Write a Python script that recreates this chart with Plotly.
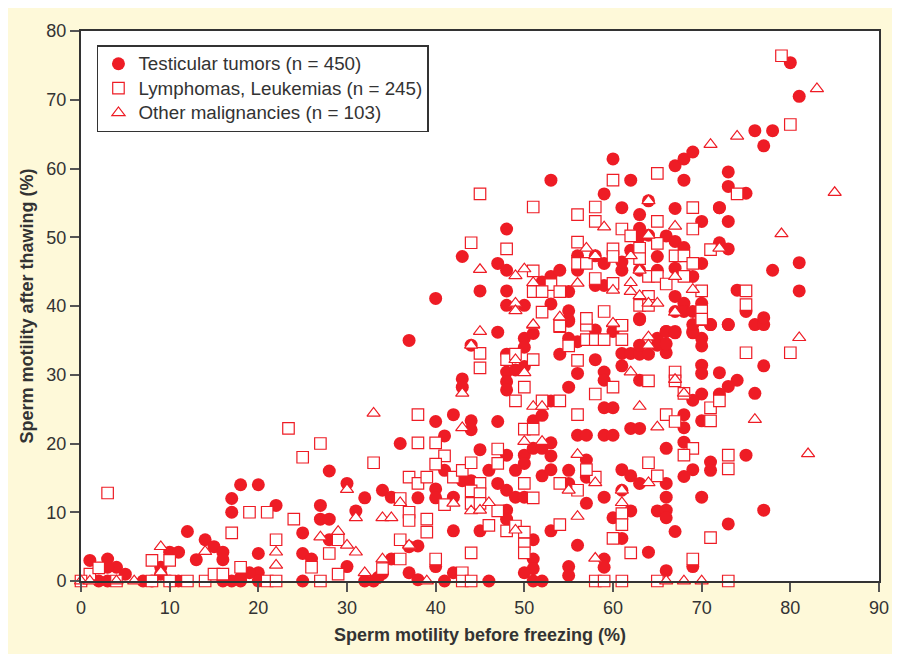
import plotly.graph_objects as go

testicular = [
(1,3),(3,3.2),(4,2),(5,1),(3,2),(2,0),(3,0),(7,0),(8,0),(9,2),(9,1),(10,4.2),(11,4.2),(12,7.2),(13,3.1),
(14,6),(15,5),(16,4.2),(16,3.1),(17,12),(17,10),(18,14),(20,14),(22,11),(20,4),(20,1.2),(19,1.2),(18,.5),
(17,0),(16,0),(18,0),(20,0),(11,0),(10,0),(25,7),(25,4),(26,3.2),(25,0),(27,11),(27,9),(28,9),(28,16),(28,6),
(30,14.2),(30,2.1),(31,10.2),
(37,35),(47,36.2),(44,34.3),(50,35.3),(50,34),(51,36),(55,37.8),(55,35.3),(54,33),(56,34.8),(56,30.2),(58,32.2),
(59,30.4),(59,29.2),(61,33.1),(62,33.1),(63,33),(64,33),(66,33.2),(61,31.3),(48,33),(48,30.4),(48,29),(48,27.8),(49,30.7),(50,31.2),
(43,29.4),(43,28.2),(55,28.2),(53,26.2),(59,25.2),(60,25.2),(42,24.2),(40,23.2),(44,23.3),(44,22),(47,23.2),
(51,23.3),(52,24.1),(41,21.1),(36,20),(56,21.2),(57,21.2),(59,21.2),(60,21.2),(62,22.2),(63,22.2),
(45,19.1),(48,18.3),(50,18.3),(51,19.3),(52,19.3),(53,20.1),(53,18.2),(50,17.1),(49,16.1),(46,16.1),(41,16.1),
(52,15.3),(53,16.2),(55,16.1),(57,17.6),(57,15.1),(61,16.2),(62,15.3),(63,14.2),(47,14.2),(48,13.2),(49,12.2),(50,12.2),
(43,14.6),(44,14.6),(55,14.2),(40,13.4),(40,12.1),(38,12.1),(42,12.2),(34,13.2),(35,12.2),(32,12.1),
(59,12.2),(61,13.2),(57,11.3),(48,10.3),(48,9),(62,10.2),(60,9.2),(42,7.3),(45,7.3),(53,7.3),(51,6),(56,5.2),(61,6.2),
(38,5.1),(37,5),(51,3.2),(51,1.8),(50,1.2),(55,2.1),(55,.8),(59,3.2),(59,2),(35,3.2),(40,2.1),(34,1.1),(33.5,.5),(37,1.2),(38,.2),(42,1.2),
(32,0),(33,0),(41,0),(46,0),(51,0),(52,0),
(63,38),(66,36.3),(67,36.1),(65,35.3),(69,36.1),(70,35.3),(70,34.2),(71,37.3),(73,37.3),(76,37.3),(77,37.3),(77,38.3),
(63,34.3),(65,34.3),(66,34.5),(77,31.3),(70,31.4),(70,30.2),(72,30.3),(63,29.2),(74,29.2),(73,28.3),(72,27.2),(70,27.2),(76,27.3),(69,26.3),
(68,24.2),(70,23.3),(68,22.3),(68,20.2),(66,19.3),(75,18.3),(71,17.3),(71,16.1),(69,16.2),(68,15.2),(66,14.2),(66,12.2),(70,12.2),
(65,10.2),(66,10.3),(66,9.2),(77,10.3),(73,8.3),(67,7.2),(64,4.2),(66,1.5),(69,2.1),
(40,41.1),(43,47.2),(48,51.2),(45,42.2),(48,42.2),(47,46.2),(48,45.2),(48,40.1),(50,40.1),(53,40.3),(53,44.3),(54,45.2),(52,43.5),
(55,42.1),(55,39.3),(55,38),(53,58.3),(59,56.3),(60,61.4),(62,58.3),(61,54.3),(63,53.3),(63,51.3),(64,55.3),
(56,47.3),(58,47.3),(59,46.2),(61,45.2),(61,46.4),(62,48.1),(63,50.1),(64,50.3),(66,50.2),(67,49.4),(68,48.5),(67,54.2),(70,52.3),(72,54.3),
(72,49.2),(68,58.3),(67,60.4),(68,61.4),(69,62.4),(65,47.2),(65,45.2),(63,45.2),(56,45.2),(58,43),(59,43),(67,45.5),(70,46.2),(69,44.3),
(67,41.4),(68,40.4),(67,39.2),(68,39.2),(69,39.2),(70,40.4),(71,37.3),(63,38.2),(66,36.3),(67,36.3),(69,36.3),(58,36.5),(60,36.3),
(80,75.4),(81,70.5),(76,65.5),(78,65.5),(77,63.3),(73,59.5),(73,57.4),(75,56.4),(72,54.3),(73,52.3),(73,48.3),(81,46.3),(78,45.2),(74,42.3),(81,42.2),
(75,39.2),(73,37.3),(69,37.3),
]

lymphomas = [
(3,12.8),(1,1),(2,1.9),(0,0),(8,3),(10,3),(8,0),(10,0),(12,0),(14,0),(15,1),(16,1),(17,7),(18,2),(19,10),(21,10),(21,0),(22,0),(22,6),(24,9),
(23.4,22.2),(25,18),(27,20),(26,2),(27,0),(29,1),(28,4),(29,6),(4,0),
(38,24.2),(38,20.1),(33,17.2),(40,20.1),(41,18.2),(40,17),(37,15.1),(38,14.2),(39,15.1),(42,15.1),(43,16.1),(44,17.2),(47,19.2),(47,17.1),(45,14.2),(44,13.1),(45,12.7),
(36,12),(41,11.1),(44,11.3),(45,11.3),(37,10),(37,8.8),(47,10.2),(39,9),(39,7.1),(46,8.1),(48,7.3),(49,8),(50,7.1),(50,5.4),(50,4.1),(36,6),(36,3.2),(44,4.1),(40,3.2),
(34,1.8),(43,1.2),(43,0),(44,0),
(50,14.2),(51,12.1),(54,14.2),(56,13.2),(58,15.1),(56,24.2),(54,26.2),(52,26.2),(49,26.2),(50,28.2),(50,22.1),(51,22.1),(57,16.2),(60,28.2),(58,27.2),(45,31),(45,33.1),(48,32.2),(49,33),
(51,32.2),(55,34.2),(56,32.1),(57,37.2),(57,35.1),(58,35.1),(59,35.1),(61,35.1),(61,37.2),(54,37),
(61,9.8),(61,8.2),(60,6.2),(62,4.1),(58,0),(59,0),(61,0),(54,8.2),
(75,33.2),(80,33.2),(64,29.1),(67,30.4),(67,29.1),(70,38),(68,27.3),(71,25.2),(72,26.2),(71,23.3),(66,24.2),(67,23.2),(69,19.3),(68,18.3),(64,17.2),(65,15.3),(73,18.3),(73,16.3),
(71,6.3),(69,3.2),(65,0),(73,0),
(45,56.3),(51,54.4),(60,58.3),(65,59.3),(58,54.4),(69,54.3),(56,53.3),(58,52.3),(61,51.2),(65,52.3),(69,51.2),(44,49.2),(48,48.3),(56,49.3),(62,50.2),(60,48.3),(60,47.2),(63,48.4),(65,49.1),
(71,48.2),(63,46.9),(56,46.2),(57,46.2),(67,47.3),(68,47.3),(69,46.2),(51,45.1),(68,44.3),(58,44),(60,43.3),(64,44.3),(65,44.3),(66,43.2),(53,43.1),(51,42.1),(52,42.1),(54,42.1),(70,42.2),
(59,39.2),(64,41.4),(63,40.1),(64,40.1),(70,39.3),(70,38.1),(52,39.1),(54,37.1),(57,38.2),(61,37.2),
(79,76.4),(80,66.4),(74,56.3),(75,42.2),(75,40.2),
]

other = [
(0,0),(1,0),(4,0),(6,0),(9,5),(9,1.3),(14,4.3),(22,4.2),(22,2.3),(27,6.4),(29,7.2),(30,13.3),(30,5.2),(31,4.2),(31,9.2),
(45,36.3),(51,37.2),(44,34.3),(60,37.4),(49,32.2),(50,30.3),(62,30.4),(43,27.3),(33,24.4),(51,25.4),(52,25.4),(63,25.4),
(43,22.3),(50,20.3),(52,20.3),(56,18.4),(58,14.3),(55,13.2),(61,13.2),(61,11.4),(36,11.4),(42,11.3),(44,10.2),(45,10.3),(46,11.4),
(34,9.2),(35,9.2),(56,9.4),(49,7.4),(37,5.2),(34,3.2),(32,1.2),(39,0),(58,3.3),
(64,35.5),(64,34.3),(81,35.4),(67,29.3),(68,27.3),(65,22.4),(76,23.5),(82,18.5),(64,14.3),(66,0),(68,0),(70,0),
(71,63.5),(64,55.3),(59,51.5),(67,51.6),(45,45.3),(49,44.4),(50,45.4),(51,43.4),(56,43.3),(57,48.4),(58,47.3),(62,47.3),(64,50.3),(63,45.2),(67,44.3),
(60,42.3),(62,43.4),(62,42.1),(63,41.5),(64,40.4),(65,40.4),(69,42.4),(67,39.1),(72,48.4),(49,40.4),(49,39.3),(54,38.4),(51,37.3),(60,37.5),
(83,71.6),(74,64.7),(85,56.5),(79,50.5),
]

series_names = ["Testicular tumors (n = 450)", "Lymphomas, Leukemias (n = 245)", "Other malignancies (n = 103)"]
x_ticks = [0, 10, 20, 30, 40, 50, 60, 70, 80, 90]
y_ticks = [0, 10, 20, 30, 40, 50, 60, 70, 80]

RED = "#EE1C25"
INK = "#333333"
CREAM = "#FEF9D9"
FONT = "Liberation Sans, Arial, sans-serif"

def legend_label(text):
    return f'<span style="font-size:18.8px">{text}</span>'

fig = go.Figure()
fig.add_trace(go.Scatter(x=[p[0] for p in testicular], y=[p[1] for p in testicular], mode="markers", name=legend_label(series_names[0]),
    cliponaxis=False, marker=dict(symbol="circle", size=13, color=RED, line=dict(width=0))))
fig.add_trace(go.Scatter(x=[p[0] for p in lymphomas], y=[p[1] for p in lymphomas], mode="markers", name=legend_label(series_names[1]),
    cliponaxis=False, marker=dict(symbol="square", size=11.5, color="white", line=dict(width=1.2, color=RED))))
fig.add_trace(go.Scatter(x=[p[0] for p in other], y=[p[1] for p in other], mode="markers", name=legend_label(series_names[2]),
    cliponaxis=False, marker=dict(symbol="triangle-up", size=11.5, color="white", line=dict(width=1.2, color=RED))))

fig.update_layout(
    width=886, height=646,
    margin=dict(l=73, r=15, t=23, b=73),
    paper_bgcolor=CREAM, plot_bgcolor="white",
    font=dict(family=FONT, color=INK, size=18),
    xaxis=dict(range=[0, 90], tickvals=x_ticks, ticks="outside", ticklen=9, tickwidth=1.5, tickcolor="#555555",
               showline=True, mirror=True, linecolor="#333333", linewidth=2, showgrid=False, zeroline=False,
               automargin=False, tickfont=dict(size=18, color=INK),
               title=dict(text="<b>Sperm motility before freezing (%)</b>", font=dict(size=18, color=INK), standoff=12)),
    yaxis=dict(range=[0, 80], tickvals=y_ticks, ticks="outside", ticklen=9, tickwidth=1.5, tickcolor="#555555",
               showline=True, mirror=True, linecolor="#333333", linewidth=2, showgrid=False, zeroline=False,
               automargin=False, tickfont=dict(size=18, color=INK),
               title=dict(text="<b>Sperm motility after thawing (%)</b>", font=dict(size=18, color=INK), standoff=8)),
    legend=dict(x=0.02, y=0.9745, xanchor="left", yanchor="top", bgcolor="white", bordercolor="#333333", borderwidth=1.5,
                font=dict(size=16.5, color=INK), itemclick=False, traceorder="normal", entrywidth=303, entrywidthmode="pixels"),
)
fig.write_html("out.html")
